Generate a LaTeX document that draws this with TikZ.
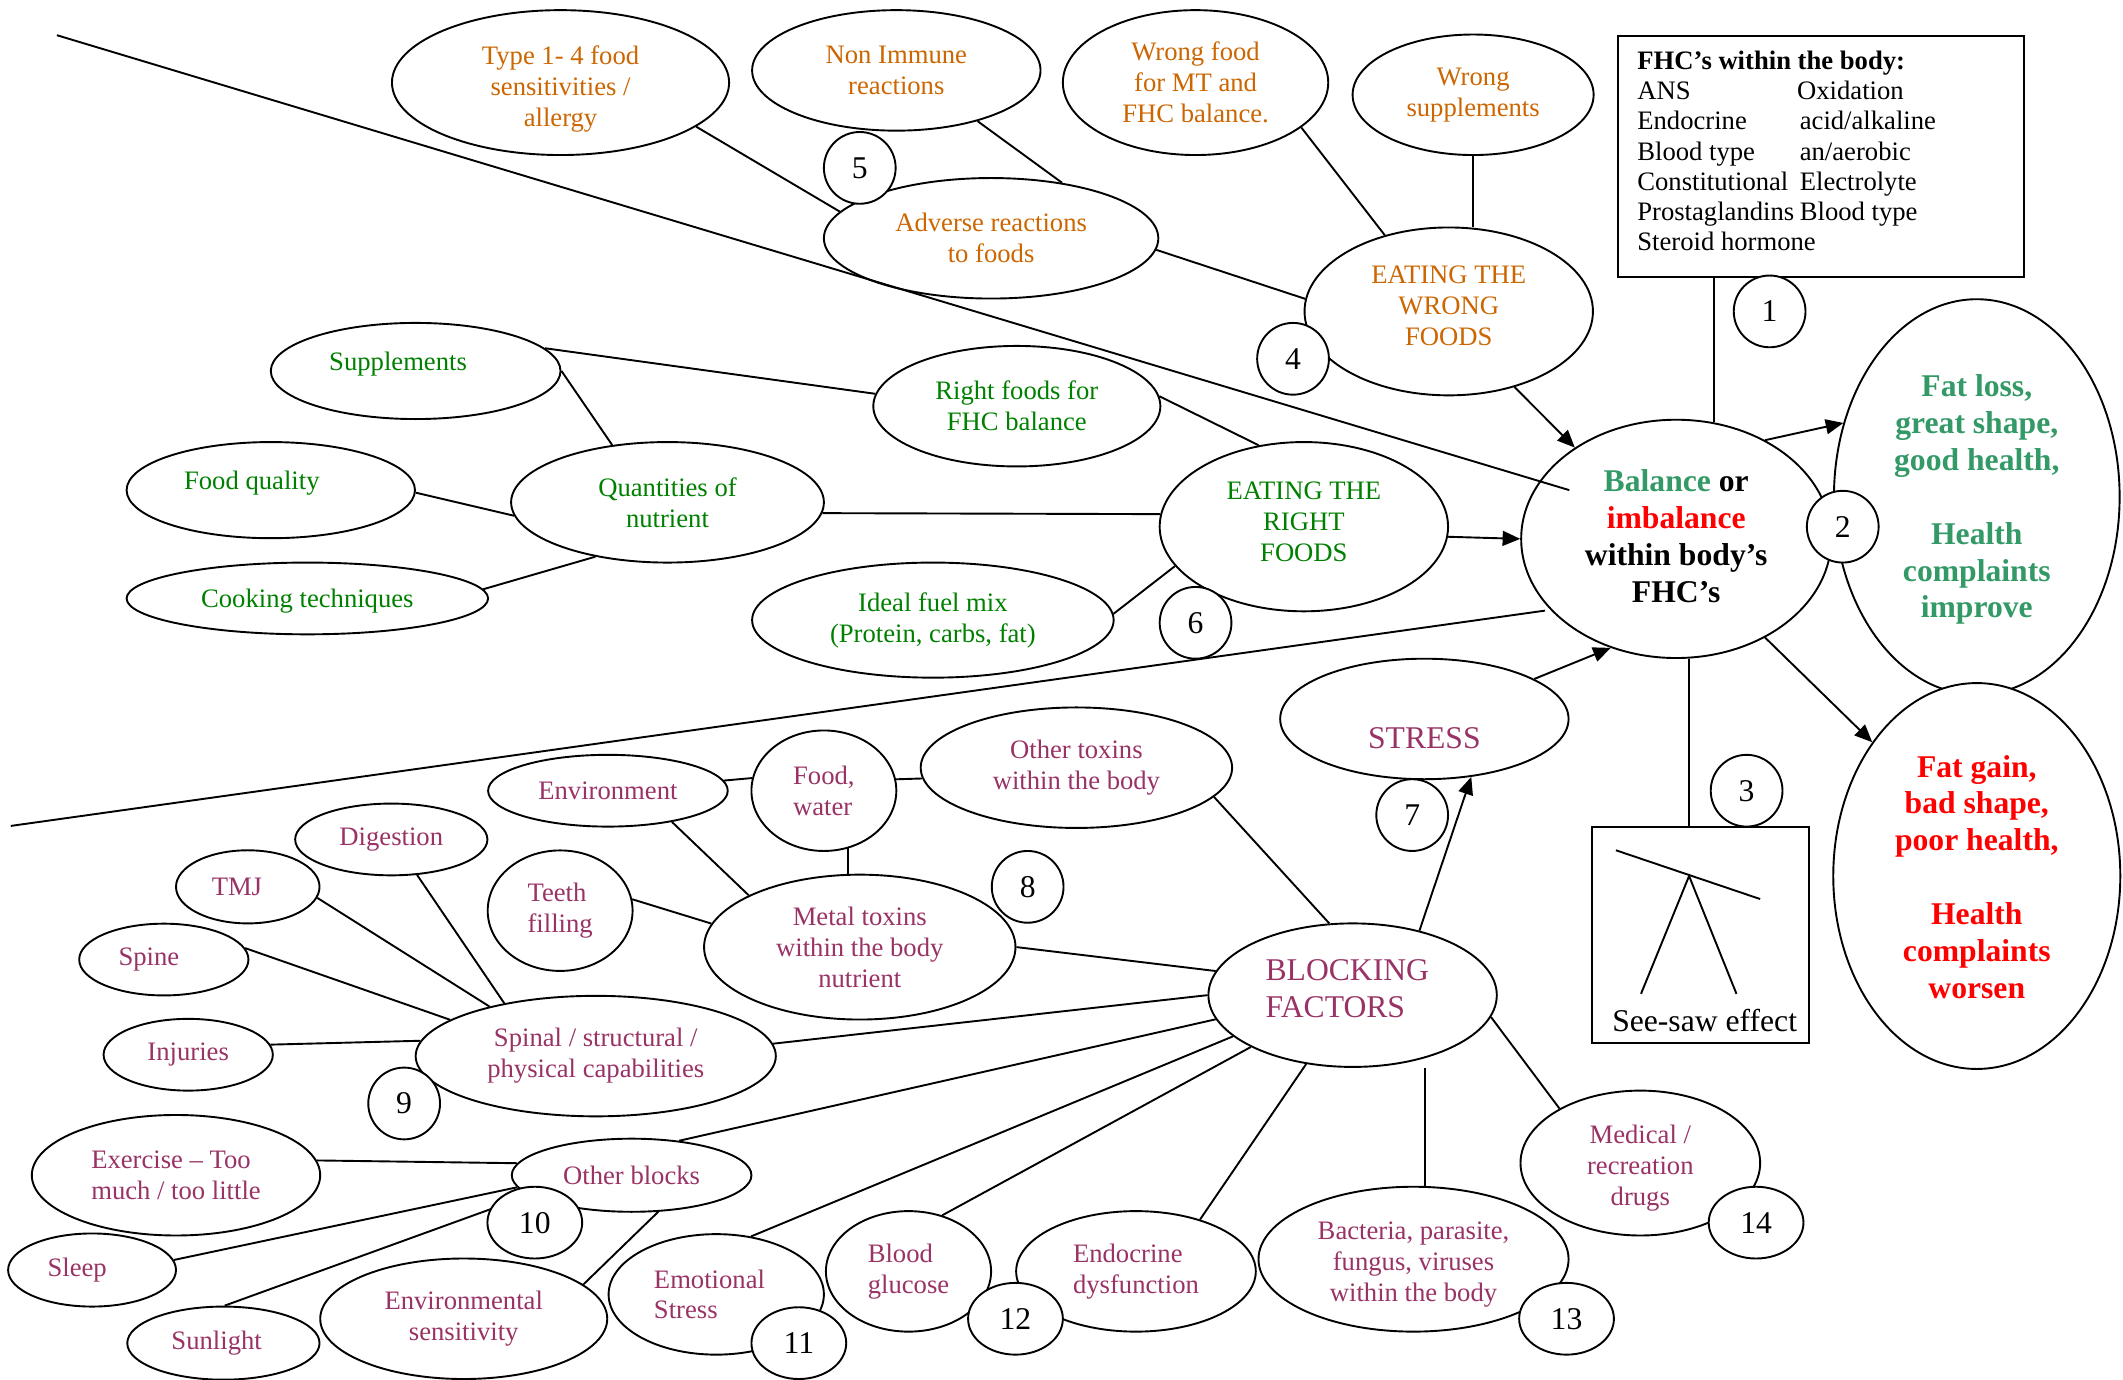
\documentclass[tikz,border=0pt]{standalone}
\usepackage{fontspec}
\setmainfont{Liberation Serif}
\usetikzlibrary{shapes.geometric,arrows.meta}
\definecolor{ochre}{RGB}{204,102,0}
\definecolor{leaf}{RGB}{0,128,0}
\definecolor{sea}{RGB}{51,153,102}
\definecolor{plum}{RGB}{153,51,102}
\newcommand{\bigtext}{\fontsize{13.3}{15.5}\selectfont}
\newcommand{\fhcrow}[2]{\makebox[24mm][l]{#1}#2}
\begin{document}
\begin{tikzpicture}[x=0.2mm,y=-0.2mm,line width=0.8pt]
    \tikzstyle{bub}=[ellipse,draw,fill=white,inner sep=0pt,align=center,font=\fontsize{11.2}{13}\selectfont]
    \tikzstyle{txt}=[inner sep=0pt,align=center,font=\fontsize{11.2}{13}\selectfont]
    \tikzstyle{num}=[ellipse,draw,fill=white,inner sep=0pt,minimum width=10.6mm,minimum height=10.6mm,font=\bigtext]
    \tikzstyle{numw}=[num,minimum width=14mm]
    \tikzstyle{arr}=[-{Triangle[length=2.6mm,width=2.2mm]}]
    \useasboundingbox (0,0) rectangle (1568,1019);

    % wrong foods
    \node[bub,minimum width=49.8mm,minimum height=21.4mm,text=ochre,text height=13.86mm,text depth=0.86mm] (typefood) at (414,61) {Type 1- 4 food\\sensitivities /\\allergy};
    \node[bub,minimum width=42.6mm,minimum height=17.8mm,text=ochre] (nonimmune) at (662,52) {Non Immune\\reactions};
    \node[bub,minimum width=39.2mm,minimum height=21.4mm,text=ochre] (wrongfood) at (883,61) {Wrong food\\for MT and\\FHC balance.};
    \node[bub,minimum width=35.6mm,minimum height=17.8mm,text=ochre] (wrongsupp) at (1088,70) {Wrong\\supplements};
    \node[bub,minimum width=49.4mm,minimum height=17.8mm,text=ochre] (adverse) at (732,176) {Adverse reactions\\to foods};
    \node[bub,minimum width=42.6mm,minimum height=24.8mm] (wrongeat) at (1070,230) {};
    \node[txt,text=ochre,anchor=north] (wrongeattext) at (1070,196) {EATING THE\\WRONG\\FOODS};

    % right foods
    \node[bub,minimum width=42.8mm,minimum height=14.2mm,text=leaf,text height=2.6mm,text depth=2.6mm] (supplements) at (307,274) {Supplements\kern5.2mm};
    \node[bub,minimum width=42.6mm,minimum height=14.2mm,text=leaf,text height=2.6mm,text depth=2.8mm] (foodquality) at (200,362) {Food quality\kern5.6mm};
    \node[bub,minimum width=53.4mm,minimum height=10.6mm,text=leaf,text height=3.6mm,text depth=1mm] (cooking) at (227,442) {Cooking techniques};
    \node[bub,minimum width=46.2mm,minimum height=17.8mm,text=leaf] (quantities) at (493,371) {Quantities of\\nutrient};
    \node[bub,minimum width=42.4mm,minimum height=17.8mm,text=leaf] (rightfoods) at (751,300) {Right foods for\\FHC balance};
    \node[bub,minimum width=53.4mm,minimum height=17mm,text=leaf] (fuelmix) at (689,458) {Ideal fuel mix\\(Protein, carbs, fat)};
    \node[bub,minimum width=42.6mm,minimum height=25mm] (righteat) at (963,389) {};
    \node[txt,text=leaf,anchor=north] (righteattext) at (963,355) {EATING THE\\RIGHT\\FOODS};

    % centre and outcomes
    \node[bub,minimum width=45.8mm,minimum height=35.2mm] (balance) at (1238,398) {};
    \node[txt,font=\bigtext\bfseries,anchor=north] (balancetext) at (1238,346) {\textcolor{sea}{Balance} or\\\textcolor{red}{imbalance}\\within body’s\\FHC’s};
    \node[bub,minimum width=42.2mm,minimum height=58.4mm] (fatloss) at (1460,367) {};
    \node[txt,font=\bigtext\bfseries,text=sea,anchor=north] (fatlosstext) at (1460,276) {Fat loss,\\great shape,\\good health,\\[15.5pt]Health\\complaints\\improve};
    \node[bub,minimum width=42.4mm,minimum height=57mm] (fatgain) at (1460,647) {};
    \node[txt,font=\bigtext\bfseries,text=red,anchor=north] (fatgaintext) at (1460,557) {Fat gain,\\bad shape,\\poor health,\\[15.5pt]Health\\complaints\\worsen};

    \node[draw,minimum width=60mm,minimum height=35.6mm,anchor=north west,inner sep=0pt] (fhcbox) at (1194,26) {};
    \node[txt,align=left,anchor=north west,font=\fontsize{11.2}{12.7}\selectfont] (fhctext) at (1208.6,37) {\textbf{FHC’s within the body:}\\
        \makebox[23.6mm][l]{ANS}Oxidation\\
        \fhcrow{Endocrine}{acid/alkaline}\\
        \fhcrow{Blood type}{an/aerobic}\\
        \fhcrow{Constitutional}{Electrolyte}\\
        \fhcrow{Prostaglandins}{Blood type}\\
        Steroid hormone};

    \node[draw,minimum width=32mm,minimum height=32mm,inner sep=0pt] (seesaw) at (1256,690.5) {};
    \draw (1193.5,628) -- (1300,664);
    \draw (1212,734) -- (1247.5,647) -- (1282.5,734);
    \node[txt,font=\bigtext,anchor=base] (seesawtext) at (1259,762) {See-saw effect};

    % blocking factors
    \node[bub,minimum width=42.6mm,minimum height=17.8mm,text=plum,font=\bigtext,text height=8.9mm,text depth=0.3mm] (stress) at (1052,531) {STRESS};
    \node[bub,minimum width=42.6mm,minimum height=21.2mm] (blocking) at (999,735) {};
    \node[txt,font=\bigtext,text=plum,align=left,anchor=north west] (blockingtext) at (934,708) {BLOCKING\\FACTORS};
    \node[bub,minimum width=46mm,minimum height=17.8mm,text=plum] (othertoxins) at (795,567) {Other toxins\\within the body};
    \node[bub,minimum width=21.4mm,minimum height=17.8mm,text=plum,align=left] (foodwater) at (608.5,584) {Food,\\water};
    \node[bub,minimum width=35.4mm,minimum height=10.6mm,text=plum] (environment) at (449,584) {Environment};
    \node[bub,minimum width=21.4mm,minimum height=17.8mm,text=plum,align=left] (teeth) at (413.7,672.6) {Teeth\\filling};
    \node[bub,minimum width=46mm,minimum height=21.4mm,text=plum] (metal) at (635,699.5) {Metal toxins\\within the body\\nutrient};
    \node[bub,minimum width=28.4mm,minimum height=10.6mm,text=plum] (digestion) at (289,620) {Digestion};
    \node[bub,minimum width=21.2mm,minimum height=10.8mm,text=plum] (tmj) at (183,655) {TMJ\kern3.2mm};
    \node[bub,minimum width=25mm,minimum height=10.6mm,text=plum] (spine) at (121,708.7) {Spine\kern4.4mm};
    \node[bub,minimum width=25mm,minimum height=10.6mm,text=plum] (injuries) at (139,779) {Injuries};
    \node[bub,minimum width=53.2mm,minimum height=17.8mm,text=plum] (spinal) at (440,780) {Spinal / structural /\\physical capabilities};
    \node[bub,minimum width=42.6mm,minimum height=17.8mm,text=plum,align=left] (exercise) at (130,868) {Exercise – Too\\much / too little};
    \node[bub,minimum width=35.4mm,minimum height=10.8mm,text=plum] (otherblocks) at (466.5,868) {Other blocks};
    \node[bub,minimum width=24.8mm,minimum height=10.8mm,text=plum] (sleep) at (68,938) {Sleep\kern4.4mm};
    \node[bub,minimum width=28.4mm,minimum height=10.8mm,text=plum] (sunlight) at (165,992) {Sunlight\kern2mm};
    \node[bub,minimum width=42.4mm,minimum height=17.8mm,text=plum] (envsens) at (342.5,974) {Environmental\\sensitivity};
    \node[bub,minimum width=31.8mm,minimum height=17.8mm,text=plum,align=left] (emotional) at (529,956) {Emotional\kern2mm\\Stress};
    \node[bub,minimum width=24.4mm,minimum height=17.8mm,text=plum,align=left] (glucose) at (671,939) {Blood\\glucose};
    \node[bub,minimum width=35.4mm,minimum height=17.8mm,text=plum,align=left] (endocrine) at (839,939) {Endocrine\\dysfunction};
    \node[bub,minimum width=45.8mm,minimum height=21.4mm,text=plum,text height=13.46mm,text depth=0.86mm] (bacteria) at (1044,930) {Bacteria, parasite,\\fungus, viruses\\within the body};
    \node[bub,minimum width=35.4mm,minimum height=21.4mm,text=plum,text height=13.46mm,text depth=0.86mm] (medical) at (1211.5,859) {Medical /\\recreation\\drugs};

    % connectors
    \draw (typefood.-18.5) -- (adverse.170);
    \draw (nonimmune.-32.2) -- (adverse.38.3);
    \draw (adverse.-4.8) -- (wrongeat.175);
    \draw (wrongfood.-23.8) -- (wrongeat.130.5);
    \draw (wrongsupp.south) -- (wrongsupp.south |- wrongeat.north);

    \draw (supplements.10.6) -- (rightfoods.175.5);
    \draw (supplements.0) -- (quantities.134.7);
    \draw (foodquality.-1) -- (quantities.-175.3);
    \draw (cooking.3.7) -- (quantities.-143.7);
    \draw (quantities.-4.6) -- (righteat.175.4);
    \draw (rightfoods.4.2) -- (righteat.119.3);
    \draw (fuelmix.2.7) -- (righteat.-163);

    \draw[arr] (wrongeat.-49.7) -- (balance.138);
    \draw[arr] (righteat.-4.9) -- (balance.180);
    \draw[arr] (stress.20.8) -- (balance.-121.4);
    \draw[arr] (blocking.44.9) -- (stress.-51.3);
    \draw[arr] (balance.48.6) -- (fatloss.151.5);
    \draw[arr] (balance.-48.6) -- (fatgain.128.3);
    \draw (balance.72.5) -- (balance.72.5 |- fhcbox.south);
    \draw (balance.-84.1) -- (balance.-84.1 |- seesaw.north);

    \draw (environment.5.5) -- (foodwater.170.9);
    \draw (foodwater.9.5) -- (othertoxins.-176);
    \draw (foodwater.-67.4) -- (foodwater.-67.4 |- metal.north);
    \draw (environment.-26.4) -- (metal.155.9);
    \draw (teeth.9.2) -- (metal.171);
    \draw (metal.0) -- (blocking.170.7);
    \draw (othertoxins.-12.7) -- (blocking.108.8);
    \draw (spinal.4.3) -- (blocking.180);
    \draw (otherblocks.36.9) -- (blocking.-170.5);
    \draw (emotional.59.1) -- (blocking.-161.9);
    \draw (glucose.59) -- (blocking.-153.4);
    \draw (endocrine.39.7) -- (blocking.-124.2);
    \draw (bacteria.81.5) -- (bacteria.81.5 |- blocking.south);
    \draw (medical.146.2) -- (blocking.-9.5);

    \draw (digestion.-54.7) -- (spinal.150.7);
    \draw (tmj.-9.5) -- (spinal.155.4);
    \draw (spine.8.3) -- (spinal.166.5);
    \draw (injuries.7.8) -- (spinal.175.9);
    \draw (exercise.6) -- (otherblocks.174.1);
    \draw (sleep.7.4) -- (otherblocks.-174.4);
    \draw (sunlight.88) -- (otherblocks.-169.2);
    \draw (envsens.16.1) -- (otherblocks.-54);

    % dividing lines
    \coordinate (hiA) at (42,26);
    \coordinate (hiB) at (1159,362);
    \coordinate (loA) at (8,610);
    \coordinate (loB) at (1141,451);
    \draw (hiA) -- (hiB);
    \draw (loA) -- (loB);

    % numbers
    \node[num] (n1) at (1307,230) {1};
    \node[num] (n2) at (1361,389) {2};
    \node[num] (n3) at (1290,584) {3};
    \node[num] (n4) at (955,265) {4};
    \node[num] (n5) at (635,124) {5};
    \node[num] (n6) at (883,460) {6};
    \node[num] (n7) at (1043,602) {7};
    \node[num] (n8) at (759,655) {8};
    \node[num] (n9) at (298.5,815) {9};
    \node[numw] (n10) at (395,903) {10};
    \node[numw] (n11) at (590,992) {11};
    \node[numw] (n12) at (750,974) {12};
    \node[numw] (n13) at (1157,974) {13};
    \node[numw] (n14) at (1297,903) {14};
\end{tikzpicture}
\end{document}
